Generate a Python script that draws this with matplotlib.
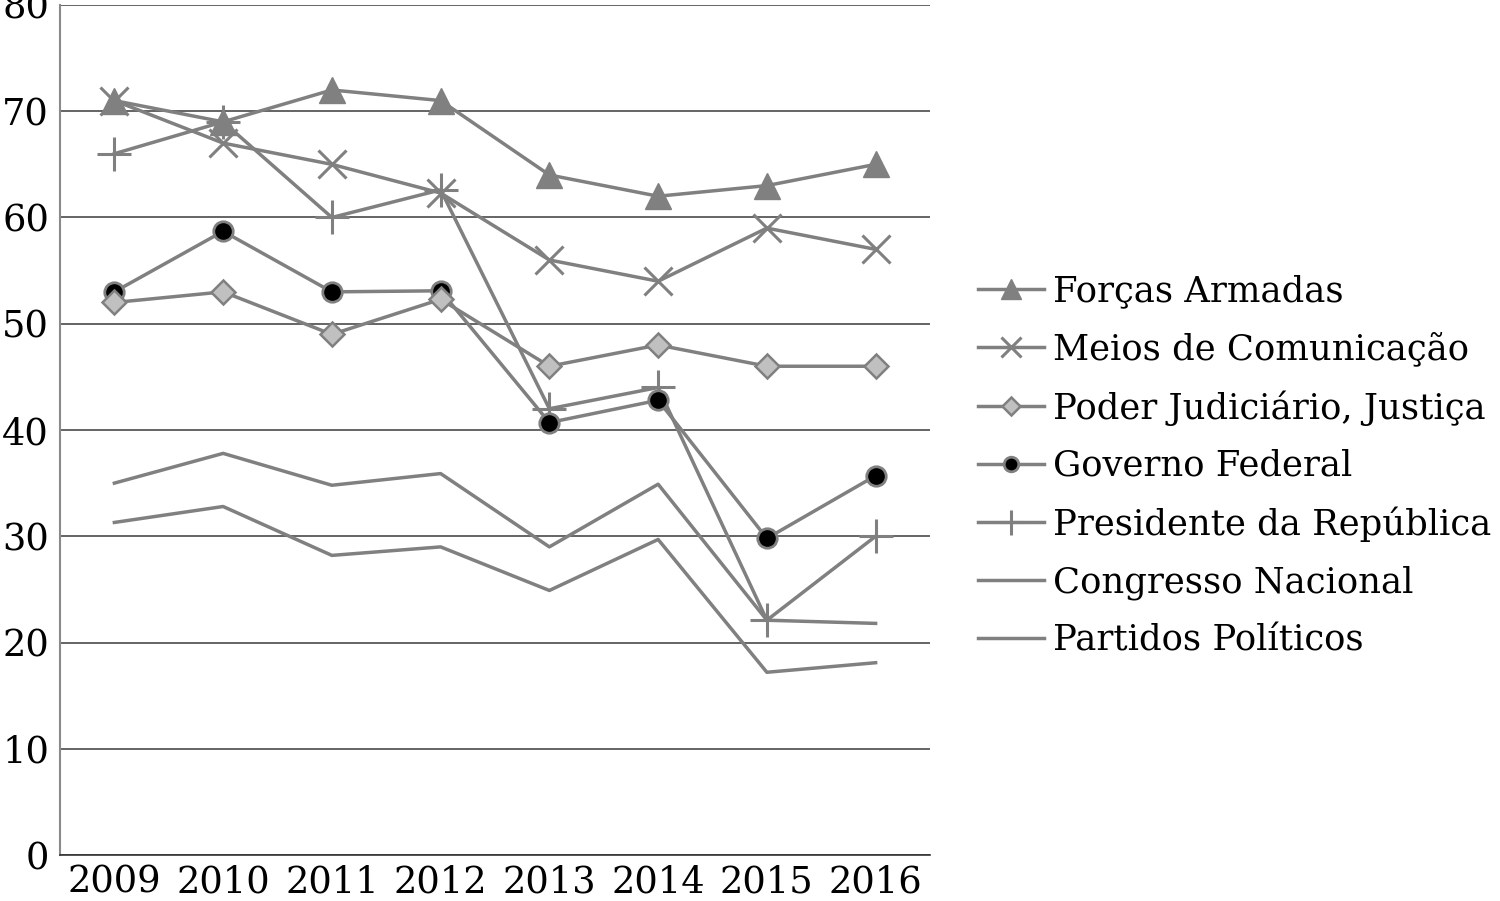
import matplotlib
matplotlib.use("Agg")
import matplotlib.pyplot as plt
from matplotlib.lines import Line2D

plt.rcParams['font.family'] = ['DejaVu Serif']

years = ["2009", "2010", "2011", "2012", "2013", "2014", "2015", "2016"]
forcas_armadas = [71, 69, 72, 71, 64, 62, 63, 65]
meios_comunicacao = [71, 67, 65, 62.3, 56, 54, 59, 57]
poder_judiciario = [52, 53, 49, 52.3, 46, 48, 46, 46]
governo_federal = [53, 58.7, 53, 53.1, 40.7, 42.8, 29.8, 35.7]
presidente = [66, 69, 60, 62.6, 42, 44, 22.1, 30]
congresso = [35, 37.8, 34.8, 35.9, 29, 34.9, 22.1, 21.8]
partidos = [31.3, 32.8, 28.2, 29, 24.9, 29.7, 17.2, 18.1]
yticks = [0, 10, 20, 30, 40, 50, 60, 70, 80]

fig = plt.figure(figsize=(15, 9.01), dpi=100)
ax = fig.add_axes([0.04, 0.051, 0.58, 0.9435])

gray = '#808080'
x = list(range(len(years)))
lw = 2.5

ax.plot(x, partidos, color=gray, lw=lw, label='Partidos Políticos', zorder=3)
ax.plot(x, congresso, color=gray, lw=lw, label='Congresso Nacional', zorder=3)
ax.plot(x, presidente, color=gray, lw=lw, marker='+', ms=24, mew=2.2,
        label='Presidente da República', zorder=4)
ax.plot(x, governo_federal, color=gray, lw=lw, marker='o', ms=14,
        mfc='black', mec=gray, mew=2, label='Governo Federal', zorder=5)
ax.plot(x, poder_judiciario, color=gray, lw=lw, marker='D', ms=12,
        mfc='#c0c0c0', mec=gray, mew=1.8, label='Poder Judiciário, Justiça', zorder=5)
ax.plot(x, meios_comunicacao, color=gray, lw=lw, marker='x', ms=20, mew=2.2,
        label='Meios de Comunicação', zorder=4)
ax.plot(x, forcas_armadas, color=gray, lw=lw, marker='^', ms=19,
        mfc=gray, mec=gray, label='Forças Armadas', zorder=6)

ax.set_xlim(-0.5, 7.5)
ax.set_ylim(0, 80)
ax.set_yticks(yticks)
ax.set_yticklabels([str(v) for v in yticks], fontsize=26.5)
ax.set_xticks(x)
ax.set_xticklabels(years, fontsize=26.5)
ax.tick_params(axis='y', length=0, pad=8)
ax.tick_params(axis='x', length=0, pad=7)
ax.grid(axis='y', color='#4a4a4a', lw=1.2, zorder=1)
for s in ['top', 'right']:
    ax.spines[s].set_visible(False)
ax.spines['left'].set_color('#8a8a8a')
ax.spines['left'].set_linewidth(1.5)
ax.spines['bottom'].set_color('#333333')
ax.spines['bottom'].set_linewidth(1.2)

handles, labels = ax.get_legend_handles_labels()
order = ['Forças Armadas', 'Meios de Comunicação', 'Poder Judiciário, Justiça',
         'Governo Federal', 'Presidente da República', 'Congresso Nacional',
         'Partidos Políticos']
hmap = dict(zip(labels, handles))
leg_handles = []
for name in order:
    h = hmap[name]
    leg_handles.append(Line2D([], [], color=gray, lw=lw, marker=h.get_marker(),
                              ms=h.get_markersize() * 0.75, mfc=h.get_markerfacecolor(),
                              mec=h.get_markeredgecolor(), mew=h.get_markeredgewidth()))
fig.legend(leg_handles, order, loc='center left', bbox_to_anchor=(0.652, 0.483),
           frameon=False, fontsize=25.5, handlelength=1.85, handletextpad=0.28,
           labelspacing=0.66, borderpad=0, borderaxespad=0)

fig.savefig('out.png', dpi=100)
